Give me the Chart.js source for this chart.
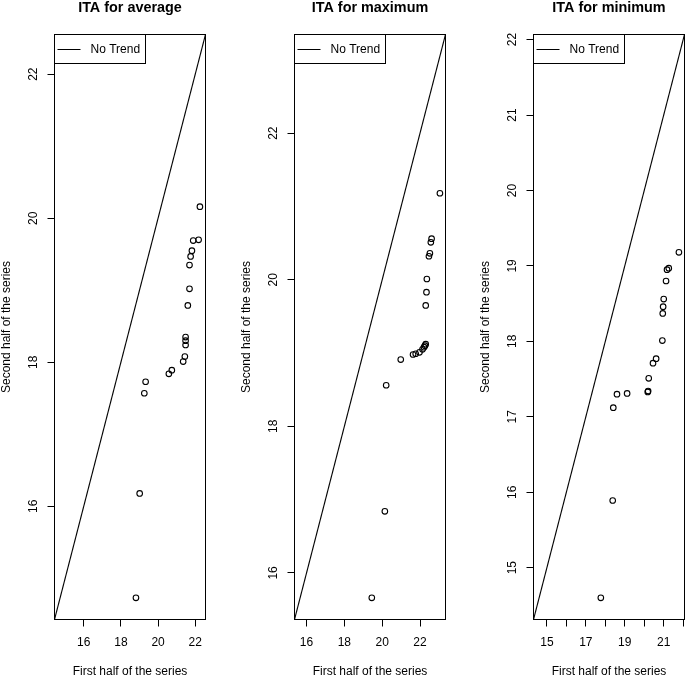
<!DOCTYPE html>
<html>
<head>
<meta charset="utf-8">
<script src="https://cdn.jsdelivr.net/npm/chart.js@4.4.1/dist/chart.umd.min.js"></script>
<style>
  html, body { margin: 0; padding: 0; background: #fff; }
  #wrap { position: relative; width: 685px; height: 675px; overflow: hidden; }
  canvas { position: absolute; top: 0; }
</style>
</head>
<body>
<div id="wrap">
  <canvas id="avg" width="240" height="675" style="left:0px"></canvas>
  <canvas id="max" width="240" height="675" style="left:240px"></canvas>
  <canvas id="min" width="240" height="675" style="left:479px"></canvas>
</div>
<script>
"use strict";
// first half (x) vs second half (y) of the series, both sorted
const avgFirst  = [18.81, 19.01, 19.26, 19.33, 20.58, 20.74, 21.35, 21.44, 21.48, 21.48, 21.48, 21.60, 21.69, 21.69, 21.75, 21.82, 21.89, 22.18, 22.25];
const avgSecond = [14.73, 16.18, 17.57, 17.73, 17.84, 17.89, 18.01, 18.08, 18.24, 18.30, 18.35, 18.79, 19.02, 19.35, 19.47, 19.55, 19.69, 19.70, 20.16];

const maxFirst  = [19.45, 20.14, 20.21, 20.98, 21.63, 21.77, 21.97, 22.13, 22.21, 22.26, 22.30, 22.30, 22.34, 22.36, 22.47, 22.52, 22.57, 22.61, 23.05];
const maxSecond = [15.66, 16.84, 18.56, 18.91, 18.98, 18.99, 19.01, 19.05, 19.08, 19.10, 19.12, 19.65, 19.83, 20.01, 20.32, 20.36, 20.51, 20.56, 21.18];

const minFirst  = [17.77, 18.38, 18.41, 18.60, 19.12, 20.18, 20.20, 20.23, 20.45, 20.61, 20.93, 20.95, 20.97, 21.00, 21.12, 21.17, 21.26, 21.78];
const minSecond = [14.60, 15.89, 17.12, 17.30, 17.31, 17.33, 17.34, 17.51, 17.71, 17.77, 18.01, 18.37, 18.46, 18.56, 18.80, 18.95, 18.97, 19.18];

const avgTicks = [16, 18, 20, 22];
const maxTicks = [16, 18, 20, 22];
const minTicks = [15, 16, 17, 18, 19, 20, 21, 22];
const avgXLabels = [16, 18, 20, 22];
const maxXLabels = [16, 18, 20, 22];
const minXLabels = [15, 17, 19, 21];

const panelTitles = ['ITA for average', 'ITA for maximum', 'ITA for minimum'];
const legendText = 'No Trend';
const xTitle = 'First half of the series';
const yTitle = 'Second half of the series';

const FONT = '"Liberation Sans", Arial, Helvetica, sans-serif';

// same limits on both axes, R style (data range + 4%)
function itaLimits(a, b) {
    const all = a.concat(b);
    const lo = Math.min(...all), hi = Math.max(...all);
    const d = (hi - lo) * 0.04;
    return [lo - d, hi + d];
}

// box, title, legend and rotated y tick labels like base R graphics
const rFrame = {
    id: 'rFrame',
    afterDraw(chart, args, opts) {
        const {ctx, chartArea: a} = chart;
        ctx.save();
        ctx.strokeStyle = '#000';
        ctx.fillStyle = '#000';
        ctx.lineWidth = 1;
        ctx.strokeRect(a.left, a.top, a.right - a.left, a.bottom - a.top);

        ctx.font = 'bold 14.4px ' + FONT;
        ctx.textAlign = 'center';
        ctx.textBaseline = 'alphabetic';
        ctx.fillText(opts.title, (a.left + a.right) / 2, 11.5);

        // legend
        ctx.strokeRect(a.left, a.top, 91, 29);
        ctx.beginPath();
        ctx.moveTo(a.left + 3, a.top + 15);
        ctx.lineTo(a.left + 26, a.top + 15);
        ctx.stroke();
        ctx.font = '12px ' + FONT;
        ctx.textAlign = 'left';
        ctx.textBaseline = 'middle';
        ctx.fillText(legendText, a.left + 36, a.top + 15);

        // y tick labels, parallel to the axis
        const ys = chart.scales.y;
        ctx.textAlign = 'center';
        ys.ticks.forEach(t => {
            const py = ys.getPixelForValue(t.value);
            ctx.save();
            ctx.translate(a.left - 21, py);
            ctx.rotate(-Math.PI / 2);
            ctx.fillText(String(t.value), 0, 0);
            ctx.restore();
        });
        ctx.restore();
    }
};

function makePanel(id, title, first, second, ticks, xLabels) {
    const lim = itaLimits(first, second);
    const points = first.map((v, i) => ({x: v, y: second[i]}));
    const axisGrid = {drawOnChartArea: false, drawTicks: true, tickLength: 7, color: '#000', lineWidth: 1};
    return new Chart(document.getElementById(id), {
        type: 'scatter',
        data: {
            datasets: [{
                data: points,
                pointStyle: 'circle',
                pointRadius: 2.8,
                pointHoverRadius: 2.8,
                borderColor: '#000',
                borderWidth: 1.1,
                backgroundColor: 'rgba(0,0,0,0)',
            }, {
                data: [{x: lim[0], y: lim[0]}, {x: lim[1], y: lim[1]}],
                showLine: true,
                pointRadius: 0,
                borderColor: '#000',
                borderWidth: 1.1,
            }]
        },
        options: {
            responsive: false,
            animation: false,
            events: [],
            layout: {padding: {top: 34.5, right: 34.5, bottom: 0, left: 0}},
            plugins: {
                legend: {display: false},
                tooltip: {enabled: false},
                rFrame: {title: title},
            },
            scales: {
                x: {
                    type: 'linear',
                    min: lim[0],
                    max: lim[1],
                    afterBuildTicks: s => { s.ticks = ticks.map(v => ({value: v})); },
                    afterFit: s => { s.height = 55.5; },
                    grid: axisGrid,
                    border: {display: false},
                    ticks: {
                        color: '#000',
                        font: {family: FONT, size: 12},
                        padding: 9,
                        maxRotation: 0,
                        autoSkip: false,
                        callback: v => xLabels.includes(v) ? String(v) : '',
                    },
                    title: {
                        display: true,
                        text: xTitle,
                        color: '#000',
                        font: {family: FONT, size: 12, lineHeight: 1},
                        padding: {top: 0, bottom: -2.5},
                    },
                },
                y: {
                    type: 'linear',
                    min: lim[0],
                    max: lim[1],
                    afterBuildTicks: s => { s.ticks = ticks.map(v => ({value: v})); },
                    afterFit: s => { s.width = 54.5; },
                    grid: axisGrid,
                    border: {display: false},
                    ticks: {display: false},
                    title: {
                        display: true,
                        text: yTitle,
                        color: '#000',
                        font: {family: FONT, size: 12, lineHeight: 1},
                        padding: {top: 1, bottom: 0},
                    },
                },
            },
        },
        plugins: [rFrame],
    });
}

makePanel('avg', panelTitles[0], avgFirst, avgSecond, avgTicks, avgXLabels);
makePanel('max', panelTitles[1], maxFirst, maxSecond, maxTicks, maxXLabels);
makePanel('min', panelTitles[2], minFirst, minSecond, minTicks, minXLabels);
</script>
</body>
</html>
